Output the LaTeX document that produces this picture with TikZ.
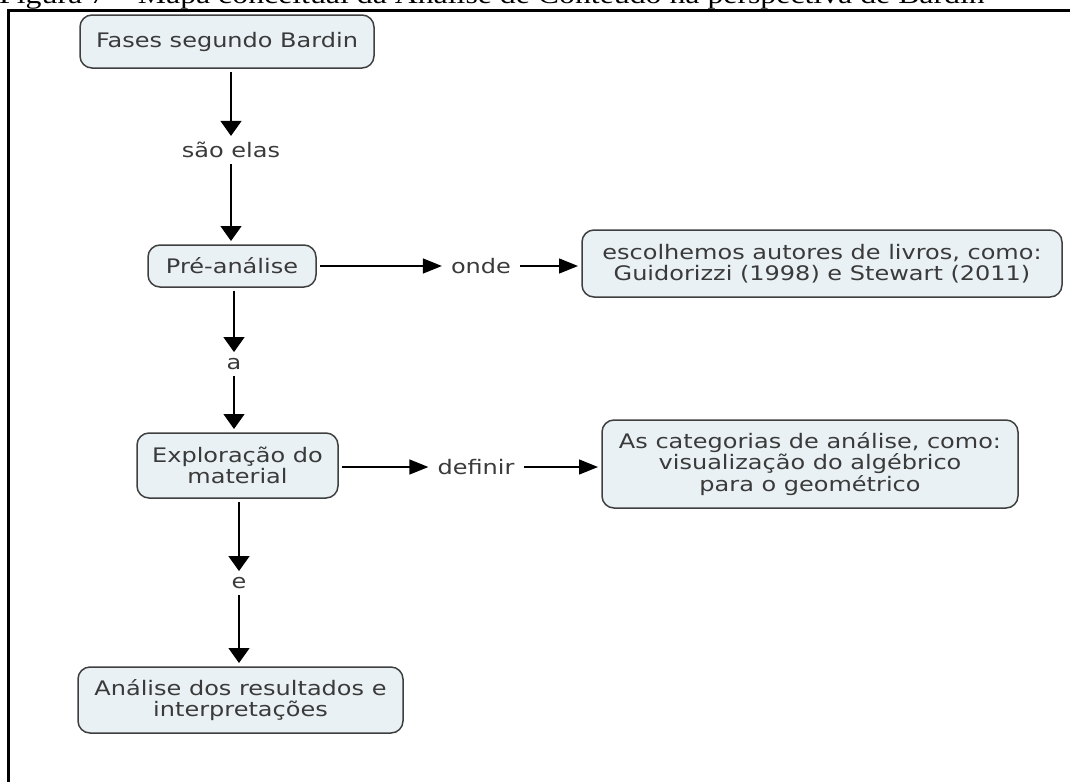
\documentclass[tikz,border=0pt]{standalone}
\usepackage{fontspec}
\usetikzlibrary{arrows.meta}
\newfontfamily\mapfont[FakeStretch=1.2]{DejaVu Sans}
\newfontfamily\capfont[FakeStretch=1.2]{Liberation Serif}
\definecolor{boxfill}{HTML}{EAF1F4}
\definecolor{boxline}{HTML}{3F3F3F}
\definecolor{txt}{HTML}{3A3A3A}
\begin{document}
\begin{tikzpicture}[x=1pt,y=-1pt,
  concept/.style={draw=boxline, line width=1.5pt, fill=boxfill,
    rounded corners=12pt, text=txt, align=center, inner sep=0pt,
    outer sep=4pt, font=\mapfont\fontsize{20}{21.5}\selectfont},
  linkword/.style={text=txt, inner xsep=9pt, inner ysep=6pt,
    font=\mapfont\fontsize{20}{21.5}\selectfont},
  varr/.style={line width=1.4pt, -{Triangle[width=21pt,length=15pt]}},
  harr/.style={line width=1.4pt, -{Triangle[width=15pt,length=19pt]}}
]
\useasboundingbox (0,0) rectangle (1070,782);
\clip (0,0) rectangle (1070,782);

% caption, cut by the top of the page
\node[anchor=base west, inner sep=0pt, font=\capfont\fontsize{26.5}{30}\selectfont]
  (cap) at (-1,3.5) {Figura 7 – Mapa conceitual da Análise de Conteúdo na perspectiva de Bardin};

% frame
\draw[line width=2.5pt] (8.5,782) -- (8.5,10.5) -- (1070,10.5);

% concepts
\node[concept, minimum width=294pt, minimum height=53pt] (b1) at (227,41.5) {Fases segundo Bardin};
\node[concept, minimum width=168pt, minimum height=42pt] (b2) at (232,266) {Pré-análise};
\node[concept, minimum width=480pt, minimum height=67pt] (b3) at (822,263.5)
  {escolhemos autores de livros, como:\\ Guidorizzi (1998) e Stewart (2011)};
\node[concept, minimum width=201pt, minimum height=65pt] (b4) at (237.5,465.5)
  {Exploração do\\material};
\node[concept, minimum width=416pt, minimum height=88pt] (b5) at (810,464)
  {As categorias de análise, como:\\ visualização do algébrico\\para o geométrico};
\node[concept, minimum width=325pt, minimum height=66pt] (b6) at (240.5,700)
  {Análise dos resultados e\\interpretações};

% linking words
\node[linkword] (l1) at (231,150) {são elas};
\node[linkword] (l2) at (234,364) {a};
\node[linkword] (l3) at (239,583) {e};
\node[linkword] (l4) at (481,266) {onde};
\node[linkword] (l5) at (476,467) {definir};

% connectors
\draw[varr] (l1 |- b1.south) -- (l1.north);
\draw[varr] (l1.south) -- (l1 |- b2.north);
\draw[varr] (l2 |- b2.south) -- (l2.north);
\draw[varr] (l2.south) -- (l2 |- b4.north);
\draw[varr] (l3 |- b4.south) -- (l3.north);
\draw[varr] (l3.south) -- (l3 |- b6.north);
\draw[harr] (b2.east |- l4) -- (l4.west);
\draw[harr] (l4.east) -- (b3.west |- l4);
\draw[harr] (b4.east |- l5) -- (l5.west);
\draw[harr] (l5.east) -- (b5.west |- l5);
\end{tikzpicture}
\end{document}
